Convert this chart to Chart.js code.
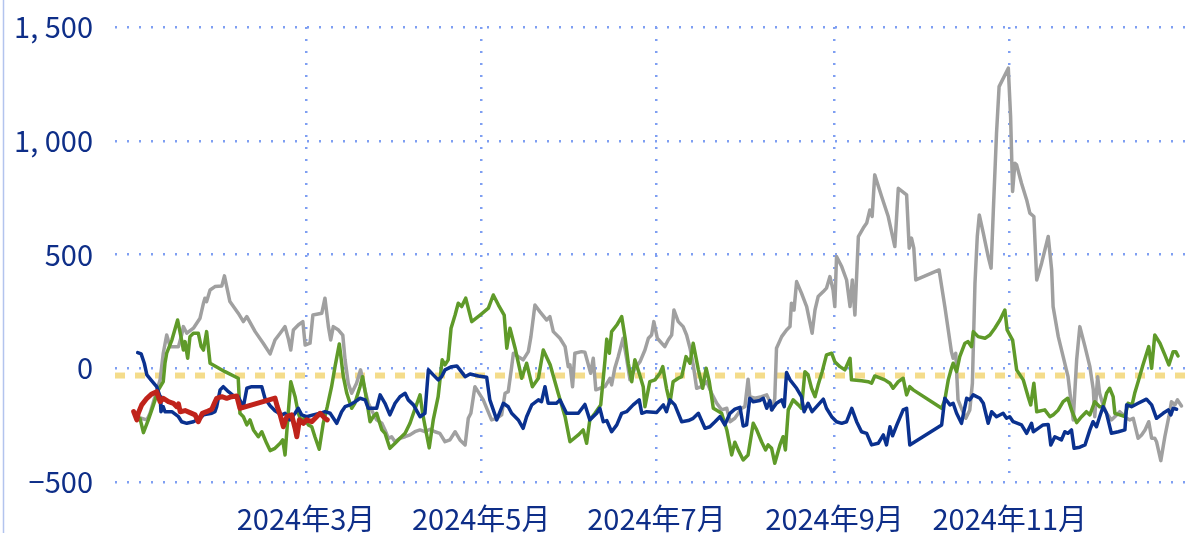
<!DOCTYPE html>
<html>
<head>
<meta charset="utf-8">
<script src="https://cdn.jsdelivr.net/npm/chart.js@4.4.1/dist/chart.umd.min.js"></script>
<style>
  html, body { margin: 0; padding: 0; background: #fff; }
  #wrap { width: 1195px; height: 533px; }
</style>
</head>
<body>
<div id="wrap"><canvas id="grafico"></canvas></div>
<script>
// Días contados desde el 1 de enero de 2024 y valores de cada serie
const tickMonths = [3, 5, 7, 9, 11];
const tickLabels = ['2024年3月', '2024年5月', '2024年7月', '2024年9月', '2024年11月'];
const baseline = -32;

const grayDays = [2.6, 4.6, 5.7, 7.4, 9.2, 10.3, 11.5, 12.7, 15.6, 16.7, 17.3, 18.5, 20.8, 23.1, 24.3, 24.8, 25.4, 26.6, 28.3, 30.7,
  31.6, 33.5, 36.4, 38.2, 39.4, 42.3, 45.1, 47.5, 49.2, 51, 52.7, 53.8, 54.7, 55.6, 57.3, 58.9, 59.7, 61.4, 62.4, 65.5,
  66.6, 67.8, 68.6, 69.5, 71.3, 72.8, 73.6, 74.7, 75.9, 77.6, 79, 80.5, 81.7, 83.4, 84.6, 86.4, 87.5, 88.7, 89.8, 91,
  92.7, 94.5, 96.2, 97.9, 99.7, 101.4, 103.2, 104.9, 106.6, 108.4, 110.1, 111.9, 113.6, 115.4, 116.5, 117.4, 118.8, 121.7, 124.6, 126.4,
  128.1, 129.3, 130.4, 131.6, 132.2, 133.9, 135.6, 137.4, 138.3, 139.7, 141.4, 143.8, 144.9, 146.1, 148.4, 150.2, 151.3, 151.9, 152.8, 153.6,
  155.9, 157.1, 158.3, 159.1, 160, 160.9, 162.3, 164.1, 165.8, 166.4, 167.5, 168.7, 170.4, 171.6, 172.8, 174.5, 176.3, 178, 179.2, 180.3,
  181.1, 182.3, 184.9, 186.1, 187.3, 188.1, 189.6, 191.3, 192.5, 193.7, 194.8, 196, 197.7, 199.5, 201.2, 203, 204.7, 206.5, 207.6, 209.3,
  210.5, 211.6, 212.8, 213.9, 214.5, 216.3, 218.6, 220.4, 221.5, 222.3, 223.2, 223.8, 225.6, 227.3, 228.5, 229, 229.9, 230.8, 232.5, 234.3,
  236.2, 237.2, 238.3, 240.1, 241.2, 242.4, 243.5, 244.1, 244.7, 246.5, 248.2, 249.4, 250.2, 251.1, 252.3, 254, 255.2, 256.3, 257.1, 258,
  260.4, 262.7, 265, 266.2, 269.1, 270, 270.8, 271.6, 272.3, 280.4, 282.4, 284.7, 285.3, 286.2, 287, 288.2, 289.7, 291.1, 292, 292.9,
  293.7, 294.4, 295.8, 297.5, 298.5, 299.3, 300.4, 301.3, 304.5, 305.3, 306, 306.8, 307.4, 309.1, 310.9, 312, 313.4, 314.4, 316.1, 318.4,
  319.6, 320.1, 321.9, 323.6, 325.3, 327.1, 328.3, 329.4, 331.2, 332.9, 334.1, 334.6, 335.6, 336.3, 337.5, 338.7, 340.4, 342.2, 343.3, 344.5,
  345.7, 346.8, 348, 349.7, 350.9, 352.1, 353.4, 354.4, 355.5, 356.1, 357.6, 359, 360.4, 361.3, 362.5, 363.4, 364.8];
const grayVals = [-220, -227, -198, -125, -51, 66, 146, 95, 95, 146, 183, 154, 176, 220, 286, 308, 293, 344, 359, 362,
  406, 293, 242, 205, 227, 161, 110, 63, 124, 154, 183, 132, 80, 168, 190, 205, 102, 110, 234, 242,
  308, 183, 124, 183, 168, 146, 37, -66, -110, -66, -7, -95, -154, -198, -227, -242, -271, -308, -301, -323,
  -308, -301, -293, -279, -271, -279, -268, -279, -286, -323, -315, -279, -315, -337, -220, -198, -81, -139, -227, -220,
  -205, -110, -103, 7, 66, 51, 37, 73, 139, 278, 249, 212, 227, 161, 132, 95, 7, 15, -81, 66,
  73, 70, 15, -22, 44, -95, -88, -81, -44, -73, 0, 51, 132, 44, -51, 0, 29, 80, 132, 146,
  205, 132, 95, 124, 146, 256, 205, 183, 146, 88, 15, -88, -81, -59, -110, -154, -183, -176, -235, -220,
  -198, -176, -169, -48, -125, -132, -125, -117, -147, -183, -132, 88, 139, 168, 183, 286, 256, 381, 330, 271,
  154, 256, 315, 337, 352, 403, 344, 271, 491, 447, 388, 271, 388, 234, 579, 616, 638, 696, 667, 850,
  755, 667, 535, 791, 762, 528, 572, 528, 388, 432, 271, 73, 44, 66, -139, -176, -220, -183, -66, 374,
  579, 674, 594, 491, 440, 696, 1033, 1238, 1319, 1106, 777, 901, 894, 813, 740, 682, 667, 388, 462, 579,
  432, 271, 139, 51, -37, -227, 37, 183, 95, 7, -95, -213, -37, -110, -161, -198, -227, -205, -191, -205,
  -220, -227, -220, -308, -293, -271, -235, -308, -308, -323, -406, -301, -213, -147, -161, -139, -166];

const greenDays = [2.2, 3.4, 5.1, 6.9, 8.6, 10.3, 10.9, 11.5, 13.3, 15.3, 16.7, 17.3, 17.9, 18.8, 19.6, 20.8, 22.5, 23.5, 24.3, 25.4,
  26.6, 31.8, 36.4, 37, 38.2, 39.4, 40.5, 41.7, 43.4, 44.6, 46.3, 47.5, 49.2, 51, 51.9, 52.7, 53.8, 54.7, 56.2, 57.3,
  58.5, 59.6, 60.8, 62, 63.1, 64.6, 66, 67.4, 68.9, 70.1, 71.6, 73, 74.2, 75.9, 77, 78.8, 79.7, 81.1, 82.3, 83.4,
  84.6, 86.4, 87.5, 89.2, 91, 92.7, 94.5, 96.2, 97.4, 99.7, 100.6, 101.4, 102.9, 104.3, 106, 107.4, 108.4, 109.5, 110.5, 111.9,
  113, 114.2, 115.6, 117.7, 120.6, 123.5, 125.2, 127, 129, 129.9, 131, 132.8, 135.1, 136.8, 138.8, 140.9, 142.6, 145, 147.8, 150.2,
  151.9, 154.8, 156.5, 157.7, 158.8, 160.6, 162.6, 164.1, 164.7, 165.6, 166.4, 168.2, 169.9, 171.1, 172.2, 173.4, 174.5, 176, 177.4, 178,
  179.7, 181.5, 183.2, 184.2, 185.5, 186.7, 187.8, 189.6, 190.8, 192.3, 193.7, 194.8, 196.6, 198.1, 199.3, 200.4, 201.8, 204.7, 206.5, 208.2,
  209.3, 210.5, 212.2, 213.9, 215.7, 216.9, 218.6, 220, 220.9, 222.1, 223.2, 225, 226.1, 226.9, 227.9, 229.6, 231.4, 232.5, 233.7, 234.8,
  236, 237.2, 238.3, 239.7, 241.2, 243, 244.1, 245.9, 247.6, 249.4, 249.9, 253.4, 255.7, 256.9, 258, 261.5, 263.3, 264.4, 266.2, 267.9,
  269.1, 270.2, 271.4, 281.3, 282.4, 283.6, 284.7, 285.3, 286.5, 287.6, 289.4, 290.5, 291.7, 292.3, 294, 296.4, 298.1, 299.8, 301.6, 303.3,
  304.1, 306, 307.4, 309.7, 311.4, 312.3, 313.4, 314.4, 317.2, 319, 320.1, 321.9, 323.6, 325.2, 326.5, 328.3, 330, 331.7, 332.9, 334.6,
  336.3, 337.5, 338.7, 339.8, 341, 341.6, 343.3, 345.1, 346.2, 347.6, 348.5, 349.7, 351.4, 353.4, 354.4, 355.5, 357.3, 359, 360.4, 361.9,
  362.8, 363.6];
const greenVals = [-220, -283, -227, -161, -95, -59, 22, 66, 124, 212, 124, 80, 117, 44, 139, 154, 154, 95, 80, 161,
  22, -15, -44, -198, -213, -249, -227, -271, -301, -279, -330, -362, -352, -330, -315, -381, -198, -59, -125, -198,
  -235, -213, -249, -257, -301, -356, -242, -169, -81, 7, 107, -37, -110, -176, -154, -81, -37, -139, -235, -213,
  -198, -271, -286, -352, -330, -308, -286, -242, -198, -117, -198, -253, -350, -227, -125, 37, 15, 37, 176, 234,
  286, 271, 308, 205, 234, 264, 322, 278, 234, 88, 176, 88, -44, 22, -81, -44, 80, 15, -110, -213,
  -323, -293, -271, -330, -227, -198, -161, 37, 128, 66, 161, 190, 227, 132, 22, -59, 37, -22, -81, -169,
  -59, -51, -22, 7, -88, -154, -59, -44, -37, 51, 22, 110, -7, -88, 0, -59, -176, -198, -271, -381,
  -325, -360, -403, -381, -242, -271, -323, -359, -337, -352, -418, -337, -301, -359, -183, -139, -161, -176, -15, -29,
  -88, -125, -73, -15, 59, 66, 29, 7, -7, 44, -51, -55, -59, -66, -34, -51, -66, -88, -59, -44,
  -117, -81, -95, -176, -139, -51, 0, 22, -15, 51, 110, 117, 95, 161, 139, 132, 146, 176, 212, 256,
  168, 124, -7, -51, -125, -161, -66, -191, -183, -213, -205, -183, -147, -132, -183, -239, -213, -191, -205, -147,
  -169, -169, -110, -88, -125, -198, -205, -213, -154, -161, -110, -59, 15, 95, 0, 146, 110, 59, 15, 73,
  73, 54];

const blueDays = [1.4, 2.6, 3.7, 4.6, 6.3, 8, 9.2, 9.5, 10.3, 10.9, 13.3, 15.6, 16.7, 18.5, 20.8, 23.1, 24.3, 27.2, 28.3, 28.9,
  30.1, 31.2, 33, 34.7, 36.4, 38.2, 39.4, 41.1, 44.6, 45.7, 47.5, 49.2, 51.6, 52.7, 54.4, 56.2, 57.3, 58.5, 60.2, 62.5,
  64.9, 66.6, 68.4, 70.7, 72.4, 73.6, 75.3, 77.1, 78.8, 80.6, 81.7, 84.6, 85.8, 87.5, 89.2, 91, 92.7, 94.5, 95.6, 97.4,
  99.7, 101.4, 102.6, 104.3, 106, 107.2, 108.4, 110.7, 112.5, 113.6, 115.4, 117.1, 120, 122.9, 124, 126.4, 128.7, 130.4, 131.6, 133.9,
  135.6, 136.8, 138.6, 140.9, 142, 143.2, 144.3, 147.2, 148.4, 150.7, 154.8, 157.1, 158.8, 161.2, 162.3, 163.5, 164.7, 166.4, 168.2, 169.9,
  171.6, 173.9, 176, 176.9, 178.6, 182.1, 184.4, 185.5, 186.7, 188.4, 190.8, 193.1, 194.8, 196.6, 198.9, 200.6, 202.4, 204.1, 205.8, 207.6,
  209.3, 211.1, 212.2, 213.4, 214.5, 215.7, 218, 219.2, 220.4, 221.5, 222.1, 223.8, 225.6, 226.5, 227.3, 228.5, 230.8, 232.5, 233.4, 234.8,
  236.2, 238.3, 240.1, 241.2, 243, 244.7, 246.5, 248.2, 250, 251.7, 253.4, 255.2, 256.9, 259.2, 261, 262.1, 263.3, 264.2, 265.5, 267.9,
  269.1, 270.2, 281.3, 282.4, 284.2, 285.3, 286.5, 288.2, 290, 291.1, 292.3, 294.6, 295.8, 297.5, 298.7, 300.4, 302.7, 303.9, 305, 306.2,
  309.1, 310.9, 312.6, 313.2, 314.9, 316.6, 318.4, 319.3, 320.7, 323, 324.2, 325.3, 326.5, 327.4, 329.4, 331.2, 332.9, 334, 335.2, 336.3,
  337.5, 338.7, 340.4, 342.8, 345.1, 345.7, 347.4, 349.7, 352.6, 354.4, 356.1, 358.4, 360.2, 361.1, 361.9, 363.1];
const blueVals = [69, 63, 22, -29, -55, -81, -125, -191, -169, -191, -191, -213, -235, -242, -235, -220, -205, -198, -191, -169,
  -95, -81, -103, -120, -125, -169, -88, -81, -81, -132, -165, -187, -205, -198, -227, -198, -176, -205, -213, -205,
  -198, -191, -198, -242, -191, -169, -161, -147, -132, -139, -176, -176, -117, -154, -205, -154, -125, -110, -139, -161,
  -213, -198, -7, -29, -51, -37, -7, 7, 10, -7, -37, -25, -34, -40, -139, -227, -154, -169, -198, -227,
  -264, -213, -161, -139, -147, -81, -154, -154, -139, -198, -198, -159, -227, -198, -176, -235, -230, -279, -249, -198,
  -191, -161, -139, -198, -191, -194, -161, -191, -139, -161, -235, -230, -220, -198, -264, -257, -235, -213, -249, -198,
  -180, -172, -254, -249, -132, -147, -142, -132, -176, -142, -183, -154, -139, -169, -19, -51, -88, -125, -191, -154,
  -191, -161, -136, -176, -213, -235, -242, -235, -176, -235, -279, -286, -337, -330, -293, -337, -257, -297, -255, -183,
  -176, -337, -249, -132, -161, -154, -198, -242, -132, -139, -117, -132, -154, -242, -191, -213, -198, -220, -213, -235,
  -249, -286, -242, -279, -264, -249, -247, -337, -301, -315, -279, -286, -271, -352, -347, -337, -271, -235, -257, -213,
  -169, -198, -286, -279, -271, -161, -169, -154, -136, -161, -220, -198, -183, -205, -176, -180];

const redDays = [0, 1.1, 1.6, 2.8, 4.6, 6.3, 8, 9.2, 10.3, 12.1, 13.8, 15, 15.6, 16.2, 17.9, 19.6, 21.4, 22.5, 23.9, 25.4,
  27.2, 28.1, 28.9, 30.7, 32.4, 34.1, 35.9, 37, 49.2, 50, 51, 52.1, 53.3, 55, 56.2, 56.8, 57.7, 59.1, 60.2, 62,
  63.7, 64.9, 66.6, 67.4];
const redVals = [-191, -227, -198, -161, -132, -113, -103, -147, -132, -147, -154, -169, -157, -191, -186, -195, -205, -235, -198, -191,
  -180, -154, -132, -125, -132, -125, -122, -176, -131, -169, -205, -257, -213, -205, -264, -301, -227, -242, -227, -235,
  -213, -198, -220, -227];

const X_MIN = -6.5;
const X_MAX = 369.5;
const FONT = "'Noto Sans CJK JP', 'Noto Sans', sans-serif";
const TEXT_COLOR = '#0e2e88';
const GRID_COLOR = '#7f9ff2';

// Día del año para el primer día de cada mes marcado
const tickDays = tickMonths.map(m => (Date.UTC(2024, m - 1, 1) - Date.UTC(2024, 0, 1)) / 86400000);

function puntos(dias, valores) {
    return dias.map((d, i) => ({ x: d, y: valores[i] }));
}

// Formato del eje Y: "1, 500" y signo menos tipográfico
function formatoY(v) {
    const s = Math.abs(v).toString();
    const cuerpo = s.length > 3 ? s.slice(0, -3) + ', ' + s.slice(-3) : s;
    return (v < 0 ? '\u2212' : '') + cuerpo;
}

function serie(dias, valores, color, ancho) {
    return {
        data: puntos(dias, valores),
        borderColor: color,
        borderWidth: ancho,
        pointRadius: 0,
        tension: 0,
        borderJoinStyle: 'round',
        borderCapStyle: 'round',
        fill: false
    };
}

// Línea vertical clara en el borde izquierdo
const bordeIzquierdo = {
    id: 'bordeIzquierdo',
    afterDraw(chart) {
        const ctx = chart.ctx;
        ctx.save();
        ctx.strokeStyle = '#b3c4ee';
        ctx.lineWidth = 1.5;
        ctx.beginPath();
        ctx.moveTo(3.5, 0);
        ctx.lineTo(3.5, chart.height);
        ctx.stroke();
        ctx.restore();
    }
};

const ctx = document.getElementById('grafico').getContext('2d');
new Chart(ctx, {
    type: 'line',
    data: {
        datasets: [
            serie(redDays, redVals, '#c0231b', 5),
            serie(blueDays, blueVals, '#0a318f', 3.5),
            serie(greenDays, greenVals, '#5f9a29', 3.5),
            serie(grayDays, grayVals, '#a0a0a0', 3.5),
            Object.assign(serie([X_MIN, X_MAX], [baseline, baseline], 'rgba(240,205,90,0.7)', 6), {
                borderDash: [10, 10],
                borderCapStyle: 'butt'
            })
        ]
    },
    options: {
        responsive: true,
        maintainAspectRatio: false,
        animation: false,
        layout: { autoPadding: false, padding: { top: 27, right: 0, bottom: 0, left: 0 } },
        plugins: {
            legend: { display: false },
            tooltip: { enabled: false }
        },
        scales: {
            x: {
                type: 'linear',
                min: X_MIN,
                max: X_MAX,
                afterBuildTicks: (scale) => {
                    scale.ticks = tickDays.map(v => ({ value: v }));
                },
                afterFit: (scale) => {
                    scale.height = 51;
                    scale.paddingLeft = 0;
                    scale.paddingRight = 0;
                },
                ticks: {
                    autoSkip: false,
                    maxRotation: 0,
                    padding: 20,
                    color: TEXT_COLOR,
                    font: { family: FONT, size: 29 },
                    callback: (v) => tickLabels[tickDays.indexOf(v)]
                },
                grid: { color: GRID_COLOR, lineWidth: 2.5, drawTicks: false },
                border: { display: false, dash: [2, 10] }
            },
            y: {
                min: -500,
                max: 1500,
                afterFit: (scale) => {
                    scale.width = 115;
                    scale.paddingTop = 0;
                    scale.paddingBottom = 0;
                },
                ticks: {
                    stepSize: 500,
                    padding: 22,
                    color: TEXT_COLOR,
                    font: { family: FONT, size: 29 },
                    callback: (v) => formatoY(v)
                },
                grid: { color: GRID_COLOR, lineWidth: 2.5, drawTicks: false },
                border: { display: false, dash: [2, 10] }
            }
        }
    },
    plugins: [bordeIzquierdo]
});
</script>
</body>
</html>
